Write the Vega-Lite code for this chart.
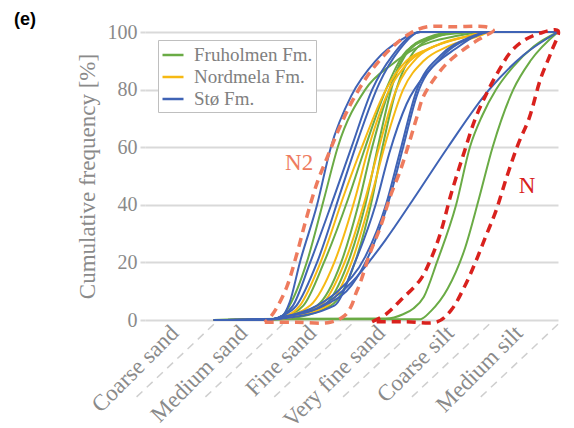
{
"$schema":"https://vega.github.io/schema/vega-lite/v6.json",
"width":413,"height":288,
"autosize":"none",
"padding":{"left":145,"top":32,"right":16,"bottom":108},
"background":"white",
"title":{"text":"(e)","anchor":"start","frame":"group","dx":-131,"dy":24,"offset":0,"baseline":"alphabetic","font":"Liberation Sans","fontSize":18,"fontWeight":"bold","color":"black"},
"config":{"view":{"stroke":null},"legend":{"labelFont":"Liberation Serif","labelFontSize":19,"labelColor":"#808080","labelFontWeight":"normal"}},
"datasets":{
"grid":[{"x":0},{"x":1},{"x":2},{"x":3},{"x":4},{"x":5},{"x":6}],
"seps":[{"x":1,"x2":-0.18,"y":-1.5,"y2":-28},{"x":2,"x2":0.82,"y":-1.5,"y2":-28},{"x":3,"x2":1.82,"y":-1.5,"y2":-28},{"x":4,"x2":2.82,"y":-1.5,"y2":-28},{"x":5,"x2":3.82,"y":-1.5,"y2":-28},{"x":6,"x2":4.82,"y":-1.5,"y2":-28}],
"labels":[{"t":"N2","x":2.24,"y":54.5},{"t":"N","x":5.55,"y":46.5}],
"curves":[
{"c":"g1","fm":"Fruholmen Fm.","x":1,"y":0},{"c":"g1","fm":"Fruholmen Fm.","x":1.85,"y":0.3},{"c":"g1","fm":"Fruholmen Fm.","x":2,"y":1.5},{"c":"g1","fm":"Fruholmen Fm.","x":2.1,"y":5},{"c":"g1","fm":"Fruholmen Fm.","x":2.35,"y":20},{"c":"g1","fm":"Fruholmen Fm.","x":2.6,"y":42},{"c":"g1","fm":"Fruholmen Fm.","x":2.8,"y":60},{"c":"g1","fm":"Fruholmen Fm.","x":3.2,"y":80},{"c":"g1","fm":"Fruholmen Fm.","x":3.6,"y":89},{"c":"g1","fm":"Fruholmen Fm.","x":3.9,"y":94},{"c":"g1","fm":"Fruholmen Fm.","x":4.5,"y":98.5},{"c":"g1","fm":"Fruholmen Fm.","x":5,"y":100},{"c":"g1","fm":"Fruholmen Fm.","x":6,"y":100},
{"c":"g2","fm":"Fruholmen Fm.","x":1,"y":0},{"c":"g2","fm":"Fruholmen Fm.","x":1.85,"y":0.3},{"c":"g2","fm":"Fruholmen Fm.","x":2,"y":1},{"c":"g2","fm":"Fruholmen Fm.","x":2.3,"y":5},{"c":"g2","fm":"Fruholmen Fm.","x":2.6,"y":20},{"c":"g2","fm":"Fruholmen Fm.","x":2.95,"y":42},{"c":"g2","fm":"Fruholmen Fm.","x":3.2,"y":60},{"c":"g2","fm":"Fruholmen Fm.","x":3.5,"y":80},{"c":"g2","fm":"Fruholmen Fm.","x":3.75,"y":92},{"c":"g2","fm":"Fruholmen Fm.","x":4.05,"y":97},{"c":"g2","fm":"Fruholmen Fm.","x":4.5,"y":99.5},{"c":"g2","fm":"Fruholmen Fm.","x":5,"y":100},{"c":"g2","fm":"Fruholmen Fm.","x":6,"y":100},
{"c":"g3","fm":"Fruholmen Fm.","x":1,"y":0},{"c":"g3","fm":"Fruholmen Fm.","x":1.85,"y":0.3},{"c":"g3","fm":"Fruholmen Fm.","x":2,"y":0.8},{"c":"g3","fm":"Fruholmen Fm.","x":2.5,"y":5},{"c":"g3","fm":"Fruholmen Fm.","x":2.85,"y":20},{"c":"g3","fm":"Fruholmen Fm.","x":3.1,"y":40},{"c":"g3","fm":"Fruholmen Fm.","x":3.3,"y":60},{"c":"g3","fm":"Fruholmen Fm.","x":3.55,"y":80},{"c":"g3","fm":"Fruholmen Fm.","x":3.8,"y":93},{"c":"g3","fm":"Fruholmen Fm.","x":4.1,"y":98},{"c":"g3","fm":"Fruholmen Fm.","x":4.5,"y":100},{"c":"g3","fm":"Fruholmen Fm.","x":6,"y":100},
{"c":"g4","fm":"Fruholmen Fm.","x":1,"y":0},{"c":"g4","fm":"Fruholmen Fm.","x":1.85,"y":0.2},{"c":"g4","fm":"Fruholmen Fm.","x":2,"y":0.5},{"c":"g4","fm":"Fruholmen Fm.","x":2.6,"y":5},{"c":"g4","fm":"Fruholmen Fm.","x":2.95,"y":20},{"c":"g4","fm":"Fruholmen Fm.","x":3.2,"y":40},{"c":"g4","fm":"Fruholmen Fm.","x":3.4,"y":62},{"c":"g4","fm":"Fruholmen Fm.","x":3.6,"y":82},{"c":"g4","fm":"Fruholmen Fm.","x":3.85,"y":94},{"c":"g4","fm":"Fruholmen Fm.","x":4.2,"y":98.5},{"c":"g4","fm":"Fruholmen Fm.","x":4.6,"y":100},{"c":"g4","fm":"Fruholmen Fm.","x":6,"y":100},
{"c":"g5","fm":"Fruholmen Fm.","x":1,"y":0},{"c":"g5","fm":"Fruholmen Fm.","x":1.85,"y":0.2},{"c":"g5","fm":"Fruholmen Fm.","x":2,"y":0.3},{"c":"g5","fm":"Fruholmen Fm.","x":2.7,"y":5},{"c":"g5","fm":"Fruholmen Fm.","x":3.05,"y":20},{"c":"g5","fm":"Fruholmen Fm.","x":3.3,"y":42},{"c":"g5","fm":"Fruholmen Fm.","x":3.45,"y":60},{"c":"g5","fm":"Fruholmen Fm.","x":3.65,"y":80},{"c":"g5","fm":"Fruholmen Fm.","x":3.9,"y":93},{"c":"g5","fm":"Fruholmen Fm.","x":4.2,"y":98},{"c":"g5","fm":"Fruholmen Fm.","x":4.6,"y":100},{"c":"g5","fm":"Fruholmen Fm.","x":6,"y":100},
{"c":"g6","fm":"Fruholmen Fm.","x":1,"y":0},{"c":"g6","fm":"Fruholmen Fm.","x":2,"y":0.4},{"c":"g6","fm":"Fruholmen Fm.","x":3.5,"y":0.5},{"c":"g6","fm":"Fruholmen Fm.","x":3.75,"y":2},{"c":"g6","fm":"Fruholmen Fm.","x":3.9,"y":4},{"c":"g6","fm":"Fruholmen Fm.","x":4.05,"y":8},{"c":"g6","fm":"Fruholmen Fm.","x":4.24,"y":20},{"c":"g6","fm":"Fruholmen Fm.","x":4.52,"y":40},{"c":"g6","fm":"Fruholmen Fm.","x":4.72,"y":60},{"c":"g6","fm":"Fruholmen Fm.","x":4.9,"y":71},{"c":"g6","fm":"Fruholmen Fm.","x":5.1,"y":80},{"c":"g6","fm":"Fruholmen Fm.","x":5.35,"y":88},{"c":"g6","fm":"Fruholmen Fm.","x":5.65,"y":95},{"c":"g6","fm":"Fruholmen Fm.","x":6,"y":100},
{"c":"g7","fm":"Fruholmen Fm.","x":1,"y":0},{"c":"g7","fm":"Fruholmen Fm.","x":2,"y":0.3},{"c":"g7","fm":"Fruholmen Fm.","x":4,"y":0.3},{"c":"g7","fm":"Fruholmen Fm.","x":4.15,"y":3},{"c":"g7","fm":"Fruholmen Fm.","x":4.4,"y":11},{"c":"g7","fm":"Fruholmen Fm.","x":4.65,"y":25},{"c":"g7","fm":"Fruholmen Fm.","x":4.85,"y":42},{"c":"g7","fm":"Fruholmen Fm.","x":5.05,"y":60},{"c":"g7","fm":"Fruholmen Fm.","x":5.35,"y":80},{"c":"g7","fm":"Fruholmen Fm.","x":5.6,"y":90},{"c":"g7","fm":"Fruholmen Fm.","x":6,"y":100},
{"c":"y1","fm":"Nordmela Fm.","x":1,"y":0},{"c":"y1","fm":"Nordmela Fm.","x":1.85,"y":0.3},{"c":"y1","fm":"Nordmela Fm.","x":2,"y":1},{"c":"y1","fm":"Nordmela Fm.","x":2.25,"y":5},{"c":"y1","fm":"Nordmela Fm.","x":2.55,"y":20},{"c":"y1","fm":"Nordmela Fm.","x":2.9,"y":44},{"c":"y1","fm":"Nordmela Fm.","x":3.15,"y":60},{"c":"y1","fm":"Nordmela Fm.","x":3.5,"y":80},{"c":"y1","fm":"Nordmela Fm.","x":3.8,"y":90},{"c":"y1","fm":"Nordmela Fm.","x":4.1,"y":94},{"c":"y1","fm":"Nordmela Fm.","x":4.6,"y":98},{"c":"y1","fm":"Nordmela Fm.","x":5,"y":100},{"c":"y1","fm":"Nordmela Fm.","x":6,"y":100},
{"c":"y2","fm":"Nordmela Fm.","x":1,"y":0},{"c":"y2","fm":"Nordmela Fm.","x":1.85,"y":0.3},{"c":"y2","fm":"Nordmela Fm.","x":2,"y":1},{"c":"y2","fm":"Nordmela Fm.","x":2.4,"y":5},{"c":"y2","fm":"Nordmela Fm.","x":2.75,"y":20},{"c":"y2","fm":"Nordmela Fm.","x":3.05,"y":42},{"c":"y2","fm":"Nordmela Fm.","x":3.25,"y":60},{"c":"y2","fm":"Nordmela Fm.","x":3.55,"y":80},{"c":"y2","fm":"Nordmela Fm.","x":3.85,"y":90},{"c":"y2","fm":"Nordmela Fm.","x":4.2,"y":95},{"c":"y2","fm":"Nordmela Fm.","x":4.7,"y":98.5},{"c":"y2","fm":"Nordmela Fm.","x":5,"y":100},{"c":"y2","fm":"Nordmela Fm.","x":6,"y":100},
{"c":"y3","fm":"Nordmela Fm.","x":1,"y":0},{"c":"y3","fm":"Nordmela Fm.","x":1.85,"y":0.2},{"c":"y3","fm":"Nordmela Fm.","x":2,"y":0.5},{"c":"y3","fm":"Nordmela Fm.","x":2.55,"y":5},{"c":"y3","fm":"Nordmela Fm.","x":2.9,"y":20},{"c":"y3","fm":"Nordmela Fm.","x":3.2,"y":42},{"c":"y3","fm":"Nordmela Fm.","x":3.4,"y":60},{"c":"y3","fm":"Nordmela Fm.","x":3.65,"y":80},{"c":"y3","fm":"Nordmela Fm.","x":3.95,"y":91},{"c":"y3","fm":"Nordmela Fm.","x":4.3,"y":96},{"c":"y3","fm":"Nordmela Fm.","x":4.8,"y":99},{"c":"y3","fm":"Nordmela Fm.","x":5,"y":100},{"c":"y3","fm":"Nordmela Fm.","x":6,"y":100},
{"c":"y4","fm":"Nordmela Fm.","x":1,"y":0},{"c":"y4","fm":"Nordmela Fm.","x":1.85,"y":0.2},{"c":"y4","fm":"Nordmela Fm.","x":2,"y":0.5},{"c":"y4","fm":"Nordmela Fm.","x":2.65,"y":5},{"c":"y4","fm":"Nordmela Fm.","x":3,"y":20},{"c":"y4","fm":"Nordmela Fm.","x":3.3,"y":44},{"c":"y4","fm":"Nordmela Fm.","x":3.5,"y":62},{"c":"y4","fm":"Nordmela Fm.","x":3.75,"y":80},{"c":"y4","fm":"Nordmela Fm.","x":4.05,"y":90},{"c":"y4","fm":"Nordmela Fm.","x":4.4,"y":95},{"c":"y4","fm":"Nordmela Fm.","x":4.9,"y":99},{"c":"y4","fm":"Nordmela Fm.","x":5,"y":100},{"c":"y4","fm":"Nordmela Fm.","x":6,"y":100},
{"c":"b1","fm":"Stø Fm.","x":1,"y":0},{"c":"b1","fm":"Stø Fm.","x":1.85,"y":0.3},{"c":"b1","fm":"Stø Fm.","x":2,"y":1.5},{"c":"b1","fm":"Stø Fm.","x":2.1,"y":6},{"c":"b1","fm":"Stø Fm.","x":2.25,"y":20},{"c":"b1","fm":"Stø Fm.","x":2.5,"y":40},{"c":"b1","fm":"Stø Fm.","x":2.7,"y":60},{"c":"b1","fm":"Stø Fm.","x":3,"y":78},{"c":"b1","fm":"Stø Fm.","x":3.35,"y":90},{"c":"b1","fm":"Stø Fm.","x":3.7,"y":97},{"c":"b1","fm":"Stø Fm.","x":4,"y":100},{"c":"b1","fm":"Stø Fm.","x":6,"y":100},
{"c":"b2","fm":"Stø Fm.","x":1,"y":0},{"c":"b2","fm":"Stø Fm.","x":1.85,"y":0.3},{"c":"b2","fm":"Stø Fm.","x":2,"y":1.5},{"c":"b2","fm":"Stø Fm.","x":2.15,"y":5},{"c":"b2","fm":"Stø Fm.","x":2.4,"y":20},{"c":"b2","fm":"Stø Fm.","x":2.75,"y":43},{"c":"b2","fm":"Stø Fm.","x":3,"y":60},{"c":"b2","fm":"Stø Fm.","x":3.3,"y":80},{"c":"b2","fm":"Stø Fm.","x":3.6,"y":92},{"c":"b2","fm":"Stø Fm.","x":4,"y":100},{"c":"b2","fm":"Stø Fm.","x":6,"y":100},
{"c":"b3","fm":"Stø Fm.","x":1,"y":0},{"c":"b3","fm":"Stø Fm.","x":1.85,"y":0.3},{"c":"b3","fm":"Stø Fm.","x":2,"y":1.5},{"c":"b3","fm":"Stø Fm.","x":2.2,"y":5},{"c":"b3","fm":"Stø Fm.","x":2.5,"y":20},{"c":"b3","fm":"Stø Fm.","x":2.85,"y":45},{"c":"b3","fm":"Stø Fm.","x":3.1,"y":63},{"c":"b3","fm":"Stø Fm.","x":3.4,"y":82},{"c":"b3","fm":"Stø Fm.","x":3.7,"y":94},{"c":"b3","fm":"Stø Fm.","x":4,"y":100},{"c":"b3","fm":"Stø Fm.","x":6,"y":100},
{"c":"b4","fm":"Stø Fm.","x":1,"y":0},{"c":"b4","fm":"Stø Fm.","x":1.85,"y":0.3},{"c":"b4","fm":"Stø Fm.","x":2,"y":1},{"c":"b4","fm":"Stø Fm.","x":2.5,"y":5},{"c":"b4","fm":"Stø Fm.","x":2.8,"y":10},{"c":"b4","fm":"Stø Fm.","x":3.2,"y":22},{"c":"b4","fm":"Stø Fm.","x":3.5,"y":40},{"c":"b4","fm":"Stø Fm.","x":3.7,"y":58},{"c":"b4","fm":"Stø Fm.","x":3.95,"y":80},{"c":"b4","fm":"Stø Fm.","x":4.3,"y":92},{"c":"b4","fm":"Stø Fm.","x":4.7,"y":98},{"c":"b4","fm":"Stø Fm.","x":5,"y":100},{"c":"b4","fm":"Stø Fm.","x":6,"y":100},
{"c":"b5","fm":"Stø Fm.","x":1,"y":0},{"c":"b5","fm":"Stø Fm.","x":1.85,"y":0.3},{"c":"b5","fm":"Stø Fm.","x":2,"y":1},{"c":"b5","fm":"Stø Fm.","x":2.6,"y":5},{"c":"b5","fm":"Stø Fm.","x":3,"y":12},{"c":"b5","fm":"Stø Fm.","x":3.3,"y":25},{"c":"b5","fm":"Stø Fm.","x":3.55,"y":42},{"c":"b5","fm":"Stø Fm.","x":3.75,"y":60},{"c":"b5","fm":"Stø Fm.","x":3.95,"y":78},{"c":"b5","fm":"Stø Fm.","x":4.3,"y":91},{"c":"b5","fm":"Stø Fm.","x":4.8,"y":98.5},{"c":"b5","fm":"Stø Fm.","x":5,"y":100},{"c":"b5","fm":"Stø Fm.","x":6,"y":100},
{"c":"b6","fm":"Stø Fm.","x":1,"y":0},{"c":"b6","fm":"Stø Fm.","x":1.85,"y":0.2},{"c":"b6","fm":"Stø Fm.","x":2,"y":0.5},{"c":"b6","fm":"Stø Fm.","x":2.75,"y":5},{"c":"b6","fm":"Stø Fm.","x":3.05,"y":20},{"c":"b6","fm":"Stø Fm.","x":3.35,"y":40},{"c":"b6","fm":"Stø Fm.","x":3.55,"y":58},{"c":"b6","fm":"Stø Fm.","x":3.8,"y":75},{"c":"b6","fm":"Stø Fm.","x":4.1,"y":86},{"c":"b6","fm":"Stø Fm.","x":4.5,"y":94},{"c":"b6","fm":"Stø Fm.","x":5,"y":100},{"c":"b6","fm":"Stø Fm.","x":6,"y":100},
{"c":"b7","fm":"Stø Fm.","x":1,"y":0},{"c":"b7","fm":"Stø Fm.","x":1.85,"y":0.3},{"c":"b7","fm":"Stø Fm.","x":2,"y":1},{"c":"b7","fm":"Stø Fm.","x":2.5,"y":4},{"c":"b7","fm":"Stø Fm.","x":3,"y":13},{"c":"b7","fm":"Stø Fm.","x":3.5,"y":28},{"c":"b7","fm":"Stø Fm.","x":3.9,"y":42},{"c":"b7","fm":"Stø Fm.","x":4.4,"y":60},{"c":"b7","fm":"Stø Fm.","x":5,"y":80},{"c":"b7","fm":"Stø Fm.","x":5.5,"y":92},{"c":"b7","fm":"Stø Fm.","x":6,"y":100}
],
"n2":[{"i":1,"x":1.74,"y":-0.8},{"i":2,"x":2.2,"y":-0.8},{"i":3,"x":2.69,"y":-0.8},{"i":4,"x":2.9,"y":1.5},{"i":5,"x":3.0,"y":5},{"i":6,"x":3.06,"y":9},{"i":7,"x":3.125,"y":12.8},{"i":8,"x":3.27,"y":23.3},{"i":9,"x":3.42,"y":32.3},{"i":10,"x":3.56,"y":42.7},{"i":11,"x":3.71,"y":52},{"i":12,"x":3.85,"y":62.5},{"i":13,"x":3.95,"y":70.5},{"i":14,"x":4.04,"y":77.4},{"i":15,"x":4.19,"y":83.3},{"i":16,"x":4.39,"y":89.2},{"i":17,"x":4.68,"y":94.8},{"i":18,"x":4.91,"y":98.3},{"i":19,"x":5.06,"y":100.5},{"i":20,"x":4.95,"y":101.8},{"i":21,"x":4.5,"y":101.8},{"i":22,"x":4.1,"y":101.8},{"i":23,"x":3.85,"y":99.5},{"i":24,"x":3.56,"y":94},{"i":25,"x":3.27,"y":86},{"i":26,"x":3.02,"y":76.4},{"i":27,"x":2.83,"y":67},{"i":28,"x":2.65,"y":56.6},{"i":29,"x":2.5,"y":47.6},{"i":30,"x":2.35,"y":35.8},{"i":31,"x":2.21,"y":23.3},{"i":32,"x":2.06,"y":11.5},{"i":33,"x":1.92,"y":4.5},{"i":34,"x":1.82,"y":1},{"i":35,"x":1.74,"y":-0.8}],
"n":[{"i":1,"x":3.3,"y":-0.6},{"i":2,"x":3.5,"y":2},{"i":3,"x":3.72,"y":7},{"i":4,"x":4.0,"y":14},{"i":5,"x":4.15,"y":21},{"i":6,"x":4.29,"y":30},{"i":7,"x":4.45,"y":44},{"i":8,"x":4.62,"y":57},{"i":9,"x":4.8,"y":70},{"i":10,"x":4.97,"y":79},{"i":11,"x":5.15,"y":87},{"i":12,"x":5.31,"y":93},{"i":13,"x":5.5,"y":97},{"i":14,"x":5.74,"y":99.6},{"i":15,"x":6.0,"y":100.5},{"i":16,"x":5.9,"y":93},{"i":17,"x":5.75,"y":84},{"i":18,"x":5.58,"y":70},{"i":19,"x":5.42,"y":61},{"i":20,"x":5.26,"y":50},{"i":21,"x":5.1,"y":38},{"i":22,"x":4.95,"y":29},{"i":23,"x":4.8,"y":20},{"i":24,"x":4.65,"y":12},{"i":25,"x":4.45,"y":3.5},{"i":26,"x":4.25,"y":-0.6},{"i":27,"x":3.8,"y":-0.6},{"i":28,"x":3.3,"y":-0.6}]
},
"encoding":{
"x":{"field":"x","type":"quantitative","scale":{"domain":[0,6],"nice":false,"zero":false},
 "axis":{"values":[0.5,1.5,2.5,3.5,4.5,5.5],"labelExpr":"['Coarse sand','Medium sand','Fine sand','Very fine sand','Coarse silt','Medium silt'][floor(datum.value)]","grid":false,"ticks":false,"tickSize":0,"domain":false,"labelAngle":-45,"labelAlign":"right","labelBaseline":"middle","labelPadding":9,"labelOffset":-5,"labelFont":"Liberation Serif","labelFontSize":23,"labelColor":"#8A8A8A","title":null,"labelOverlap":false,"labelFlush":false,"labelBound":false}},
"y":{"field":"y","type":"quantitative","scale":{"domain":[0,100],"nice":false,"zero":false},
 "axis":{"values":[0,20,40,60,80,100],"grid":true,"gridColor":"#D9D9D9","gridWidth":2,"domain":false,"ticks":true,"tickSize":5,"tickColor":"#D9D9D9","tickWidth":2,"labelPadding":3,"labelFont":"Liberation Serif","labelFontSize":20,"labelColor":"#8A8A8A","title":"Cumulative frequency [%]","titleFont":"Liberation Serif","titleFontSize":23,"titleFontWeight":"normal","titleColor":"#8A8A8A","titlePadding":8}}
},
"layer":[
{"data":{"name":"grid"},"mark":{"type":"rule","color":"#D9D9D9","strokeWidth":2},"encoding":{"y":{"datum":0},"y2":{"datum":100}}},
{"data":{"name":"seps"},"mark":{"type":"rule","color":"#CFCFCF","strokeWidth":1.5,"strokeDash":[8,6]},"encoding":{"x2":{"field":"x2"},"y2":{"field":"y2"}}},
{"data":{"name":"curves"},"mark":{"type":"line","interpolate":"monotone","strokeWidth":2},
 "encoding":{"detail":{"field":"c"},
  "color":{"field":"fm","type":"nominal","scale":{"domain":["Fruholmen Fm.","Nordmela Fm.","Stø Fm."],"range":["#6AAB45","#F6B913","#3F63B5"]},
   "legend":{"orient":"none","legendX":13,"legendY":8,"title":null,"symbolType":"stroke","symbolStrokeWidth":2.5,"symbolSize":441,"labelFont":"Liberation Serif","labelFontSize":19,"labelColor":"#808080","strokeColor":"#BFBFBF","fillColor":"white","padding":3,"rowPadding":0,"labelOffset":9}}}},
{"data":{"name":"n2"},"mark":{"type":"line","interpolate":"catmull-rom","color":"#EE7B5E","strokeWidth":3.5,"strokeDash":[9,6]},"encoding":{"order":{"field":"i","type":"quantitative"}}},
{"data":{"name":"n"},"mark":{"type":"line","interpolate":"catmull-rom","color":"#D9211D","strokeWidth":3.5,"strokeDash":[9,6]},"encoding":{"order":{"field":"i","type":"quantitative"}}},
{"data":{"name":"labels"},"transform":[{"filter":"datum.t == 'N2'"}],"mark":{"type":"text","font":"Liberation Serif","fontSize":23,"color":"#EE7B5E"},"encoding":{"text":{"field":"t"}}},
{"data":{"name":"labels"},"transform":[{"filter":"datum.t == 'N'"}],"mark":{"type":"text","font":"Liberation Serif","fontSize":23,"color":"#D9211D"},"encoding":{"text":{"field":"t"}}}
]
}
